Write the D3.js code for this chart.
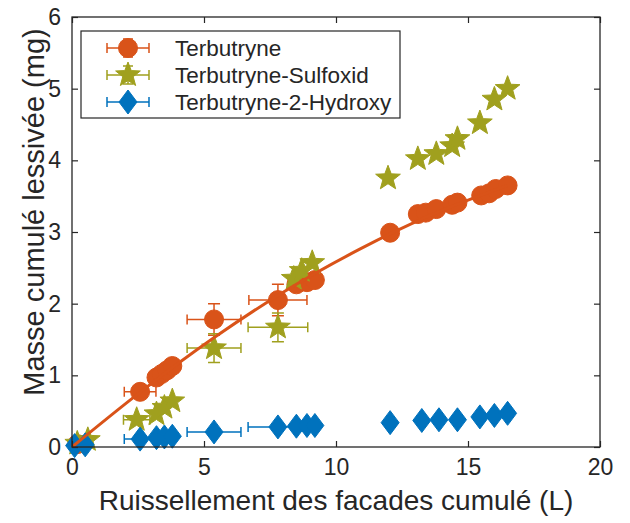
<!DOCTYPE html>
<html>
<head>
<meta charset="utf-8">
<script src="https://cdn.jsdelivr.net/npm/d3@7"></script>
<style>
  body { margin: 0; background: white; }
  text { font-family: "Liberation Sans", Arial, sans-serif; fill: #262626; }
</style>
</head>
<body>
<div class="graph"></div>
<script>
// Terbutryne (orange circles)
const terbX = [0.2, 2.58, 3.2, 3.4, 3.6, 3.8, 5.38, 7.8, 8.5, 8.9, 9.2, 12.05, 13.1, 13.4, 13.8, 14.4, 14.6, 15.5, 15.8, 16.05, 16.5];
const terbY = [0.04, 0.77, 0.97, 1.02, 1.07, 1.13, 1.78, 2.05, 2.27, 2.3, 2.33, 2.99, 3.25, 3.27, 3.32, 3.38, 3.41, 3.51, 3.54, 3.6, 3.65];
const terbXErr = [0, 0.6, 0, 0, 0, 0, 1.02, 1.1, 0, 0, 0, 0, 0, 0, 0, 0, 0, 0, 0, 0, 0];
const terbYErr = [0, 0, 0, 0, 0, 0, 0.22, 0.22, 0, 0, 0, 0, 0, 0, 0, 0, 0, 0, 0, 0, 0];

// Terbutryne-Sulfoxid (olive stars)
const sulfX = [0.2, 0.6, 2.45, 3.2, 3.5, 3.8, 5.38, 7.8, 8.4, 8.7, 9.1, 11.97, 13.1, 13.8, 14.4, 14.6, 15.45, 16.0, 16.5];
const sulfY = [0.05, 0.1, 0.38, 0.46, 0.55, 0.64, 1.38, 1.67, 2.35, 2.46, 2.57, 3.75, 4.02, 4.09, 4.2, 4.3, 4.52, 4.85, 5.0];
const sulfXErr = [0, 0, 0.5, 0, 0, 0, 1.02, 1.13, 0, 0, 0, 0, 0, 0, 0, 0, 0, 0, 0];
const sulfYErr = [0, 0, 0, 0, 0, 0, 0.2, 0.2, 0, 0, 0, 0, 0, 0, 0, 0, 0, 0, 0];

// Terbutryne-2-Hydroxy (blue diamonds)
const hydrX = [0.1, 0.5, 2.58, 3.2, 3.5, 3.8, 5.38, 7.8, 8.5, 8.9, 9.2, 12.05, 13.25, 13.9, 14.6, 15.45, 16.0, 16.5];
const hydrY = [0.02, 0.03, 0.11, 0.13, 0.14, 0.15, 0.21, 0.28, 0.29, 0.3, 0.3, 0.34, 0.37, 0.38, 0.38, 0.42, 0.44, 0.47];
const hydrXErr = [0, 0, 0.6, 0, 0, 0, 1.02, 1.13, 0, 0, 0, 0, 0, 0, 0, 0, 0, 0];
const hydrYErr = [0, 0, 0, 0, 0, 0, 0, 0, 0, 0, 0, 0, 0, 0, 0, 0, 0, 0];

// fitted curve through Terbutryne
const fitX = [0, 2.6, 5.4, 8, 10.9, 13.5, 16.5];
const fitY = [0, 0.77, 1.53, 2.16, 2.76, 3.22, 3.65];

const seriesNames = ["Terbutryne", "Terbutryne-Sulfoxid", "Terbutryne-2-Hydroxy"];
const xTicks = [0, 5, 10, 15, 20];
const yTicks = [0, 1, 2, 3, 4, 5, 6];

const W = 630, H = 523;
const colors = ["#D95319", "#A0A01E", "#0072BD"];
const axisColor = "#262626";

const svg = d3.select(".graph").append("svg").attr("width", W).attr("height", H);

const x = d3.scaleLinear().domain([0, 20]).range([72, 600]);
const y = d3.scaleLinear().domain([0, 6]).range([447, 17]);

// marker paths centred on 0,0
function starPath(R) {
    const r = R * 0.42;
    let pts = [];
    for (let i = 0; i < 10; i++) {
        const a = -Math.PI / 2 + i * Math.PI / 5;
        const rr = i % 2 === 0 ? R : r;
        pts.push([rr * Math.cos(a), rr * Math.sin(a)]);
    }
    return "M" + pts.map(p => p.join(",")).join("L") + "Z";
}
const markers = [
    d3.symbol().type(d3.symbolCircle).size(Math.PI * 9.5 * 9.5)(),
    starPath(13),
    "M0,-12L9,0L0,12L-9,0Z"
];

const plot = svg.append("g");

function drawSeries(xs, ys, xe, ye, i) {
    const g = plot.append("g");
    const data = xs.map((v, k) => ({ x: v, y: ys[k], xe: xe[k], ye: ye[k] }));
    const c = colors[i];
    // error bars
    data.filter(d => d.xe > 0).forEach(d => {
        const x0 = x(d.x - d.xe), x1 = x(d.x + d.xe), yy = y(d.y);
        g.append("path").attr("d", `M${x0},${yy}H${x1}M${x0},${yy - 5}V${yy + 5}M${x1},${yy - 5}V${yy + 5}`)
            .attr("stroke", c).attr("stroke-width", 1.5).attr("fill", "none");
    });
    data.filter(d => d.ye > 0).forEach(d => {
        const y0 = y(d.y - d.ye), y1 = y(d.y + d.ye), xx = x(d.x);
        g.append("path").attr("d", `M${xx},${y0}V${y1}M${xx - 6},${y0}H${xx + 6}M${xx - 6},${y1}H${xx + 6}`)
            .attr("stroke", c).attr("stroke-width", 1.5).attr("fill", "none");
    });
    g.selectAll("path.mk").data(data).join("path")
        .attr("class", "mk")
        .attr("d", markers[i])
        .attr("transform", d => `translate(${x(d.x)},${y(d.y)})`)
        .attr("fill", c).attr("stroke", c).attr("stroke-width", 1);
}

drawSeries(terbX, terbY, terbXErr, terbYErr, 0);
drawSeries(sulfX, sulfY, sulfXErr, sulfYErr, 1);
drawSeries(hydrX, hydrY, hydrXErr, hydrYErr, 2);

// fit line on top
const fitLine = d3.line().x(d => x(d[0])).y(d => y(d[1])).curve(d3.curveMonotoneX);
plot.append("path").datum(fitX.map((v, k) => [v, fitY[k]]))
    .attr("d", fitLine).attr("fill", "none").attr("stroke", colors[0]).attr("stroke-width", 3);

// axes: ticks inward on all sides (box on)
const tickLen = 6;
svg.append("g").attr("transform", "translate(0,447)")
    .call(d3.axisBottom(x).tickValues(xTicks).tickSize(-tickLen).tickPadding(12).tickFormat(d3.format("d")))
    .call(g => g.select(".domain").remove());
svg.append("g").attr("transform", "translate(0,17)")
    .call(d3.axisTop(x).tickValues(xTicks).tickSize(-tickLen).tickFormat(""))
    .call(g => g.select(".domain").remove());
svg.append("g").attr("transform", "translate(72,0)")
    .call(d3.axisLeft(y).tickValues(yTicks).tickSize(-tickLen).tickPadding(11).tickFormat(d3.format("d")))
    .call(g => g.select(".domain").remove());
svg.append("g").attr("transform", "translate(600,0)")
    .call(d3.axisRight(y).tickValues(yTicks).tickSize(-tickLen).tickFormat(""))
    .call(g => g.select(".domain").remove());
svg.selectAll(".tick line").attr("stroke", axisColor).attr("stroke-width", 1.2);
svg.selectAll(".tick text").attr("font-size", 23).attr("fill", axisColor)
    .attr("font-family", "Liberation Sans, Arial, sans-serif");

svg.append("rect").attr("x", 72).attr("y", 17).attr("width", 528).attr("height", 430)
    .attr("fill", "none").attr("stroke", axisColor).attr("stroke-width", 1.3);

// axis titles
svg.append("text").attr("x", 336).attr("y", 510).attr("text-anchor", "middle")
    .attr("font-size", 28).text("Ruissellement des facades cumulé (L)");
svg.append("text").attr("transform", "translate(44,212) rotate(-90)").attr("text-anchor", "middle")
    .attr("font-size", 29).text("Masse cumulé lessivée (mg)");

// legend
const leg = svg.append("g");
leg.append("rect").attr("x", 81).attr("y", 31).attr("width", 319).attr("height", 87)
    .attr("fill", "white").attr("stroke", axisColor).attr("stroke-width", 1.2);
const rowY = [48, 75, 102];
seriesNames.forEach((name, i) => {
    const cy = rowY[i], c = colors[i];
    leg.append("path").attr("d", `M107,${cy}H149M107,${cy - 5}V${cy + 5}M149,${cy - 5}V${cy + 5}`)
        .attr("stroke", c).attr("stroke-width", 1.5).attr("fill", "none");
    if (i < 2) {
        leg.append("path").attr("d", `M128,${cy - 9}V${cy + 9}M123,${cy - 9}H133M123,${cy + 9}H133`)
            .attr("stroke", c).attr("stroke-width", 1.5).attr("fill", "none");
    }
    leg.append("path").attr("d", markers[i]).attr("transform", `translate(128,${cy})`)
        .attr("fill", c).attr("stroke", c);
    leg.append("text").attr("x", 175).attr("y", cy).attr("dy", "0.35em")
        .attr("font-size", 22.5).text(name);
});
</script>
</body>
</html>
